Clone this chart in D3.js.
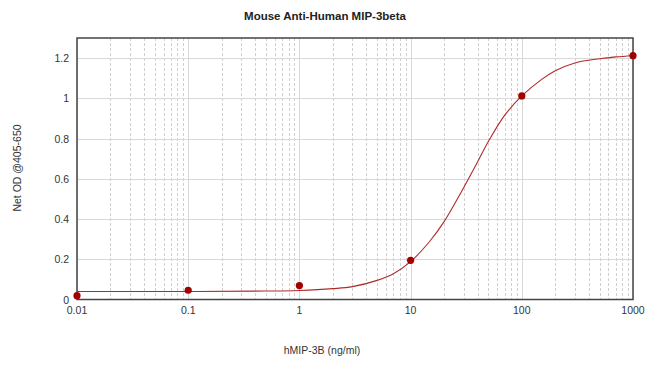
<!DOCTYPE html>
<html><head><meta charset="utf-8">
<script src="https://cdn.jsdelivr.net/npm/d3@7"></script>
<style>body{margin:0;background:#fff}svg{display:block}</style>
</head><body>
<script>
const title = "Mouse Anti-Human MIP-3beta";
const xTitle = "hMIP-3B (ng/ml)";
const yTitle = "Net OD @405-650";
const pointX = [0.01, 0.1, 1, 10, 100, 1000];
const pointY = [0.019, 0.046, 0.069, 0.195, 1.012, 1.212];
const curveX = [0.01, 0.1, 0.5, 1, 2, 3, 5, 7, 10, 15, 20, 30, 40, 50, 70, 100, 150, 200, 300, 500, 700, 1000];
const curveY = [0.040, 0.040, 0.042, 0.045, 0.054, 0.064, 0.095, 0.128, 0.188, 0.292, 0.387, 0.556, 0.684, 0.785, 0.915, 1.012, 1.093, 1.137, 1.176, 1.197, 1.206, 1.212];
const xTicks = [0.01, 0.1, 1, 10, 100, 1000];
const xTickLabels = ["0.01", "0.1", "1", "10", "100", "1000"];
const yTicks = [0, 0.2, 0.4, 0.6, 0.8, 1, 1.2];
const yTickLabels = ["0", "0.2", "0.4", "0.6", "0.8", "1", "1.2"];

const W = 650, H = 365;
const L = 77, R = 633, T = 38, B = 299.5;
const svg = d3.select("body").append("svg").attr("width", W).attr("height", H);
const x = d3.scaleLog().domain([0.01, 1000]).range([L, R]);
const y = d3.scaleLinear().domain([0, 1.3]).range([B, T]);
const font = "Arial, 'Liberation Sans', sans-serif";

const minor = [];
for (let e = -2; e < 3; e++) for (let m = 2; m <= 9; m++) minor.push(m * Math.pow(10, e));
svg.append("g").selectAll("line").data(minor).join("line")
  .attr("x1", d => Math.round(x(d)) + 0.5).attr("x2", d => Math.round(x(d)) + 0.5)
  .attr("y1", T).attr("y2", B)
  .attr("stroke", "#d0d0d0").attr("stroke-dasharray", "3,2").attr("stroke-width", 1);
svg.append("g").selectAll("line").data(xTicks).join("line")
  .attr("x1", d => Math.round(x(d)) + 0.5).attr("x2", d => Math.round(x(d)) + 0.5)
  .attr("y1", T).attr("y2", B)
  .attr("stroke", "#d8d8d8").attr("stroke-width", 1);
svg.append("g").selectAll("line").data(yTicks.slice(1)).join("line")
  .attr("x1", L).attr("x2", R)
  .attr("y1", d => Math.round(y(d)) + 0.5).attr("y2", d => Math.round(y(d)) + 0.5)
  .attr("stroke", "#d8d8d8").attr("stroke-width", 1);

svg.append("rect").attr("x", L).attr("y", T).attr("width", R - L).attr("height", B - T)
  .attr("fill", "none").attr("stroke", "#444").attr("stroke-width", 1.5);

const line = d3.line().x(d => x(d[0])).y(d => y(d[1])).curve(d3.curveCatmullRom.alpha(0.5));
svg.append("path").datum(curveX.map((v, i) => [v, curveY[i]]))
  .attr("d", line).attr("fill", "none").attr("stroke", "#b02a2a").attr("stroke-width", 1.1);

svg.append("g").selectAll("circle").data(pointX.map((v, i) => [v, pointY[i]])).join("circle")
  .attr("cx", d => x(d[0])).attr("cy", d => y(d[1])).attr("r", 3.6).attr("fill", "#a00000");

svg.append("g").selectAll("text").data(xTicks).join("text")
  .attr("x", d => x(d)).attr("y", 314).attr("text-anchor", "middle")
  .attr("font-family", font).attr("font-size", 10.5).attr("fill", "#333")
  .text((d, i) => xTickLabels[i]);
svg.append("g").selectAll("text").data(yTicks).join("text")
  .attr("x", 69).attr("y", d => y(d) + 4).attr("text-anchor", "end")
  .attr("font-family", font).attr("font-size", 10.5).attr("fill", "#333")
  .text((d, i) => yTickLabels[i]);

svg.append("text").attr("x", 325).attr("y", 20).attr("text-anchor", "middle")
  .attr("font-family", font).attr("font-size", 11.5).attr("font-weight", "bold").attr("fill", "#222")
  .text(title);
svg.append("text").attr("x", 322).attr("y", 354).attr("text-anchor", "middle")
  .attr("font-family", font).attr("font-size", 10.5).attr("fill", "#333")
  .text(xTitle);
svg.append("text").attr("transform", "translate(21,168) rotate(-90)").attr("text-anchor", "middle")
  .attr("font-family", font).attr("font-size", 10.5).attr("fill", "#333")
  .text(yTitle);
</script>
</body></html>
